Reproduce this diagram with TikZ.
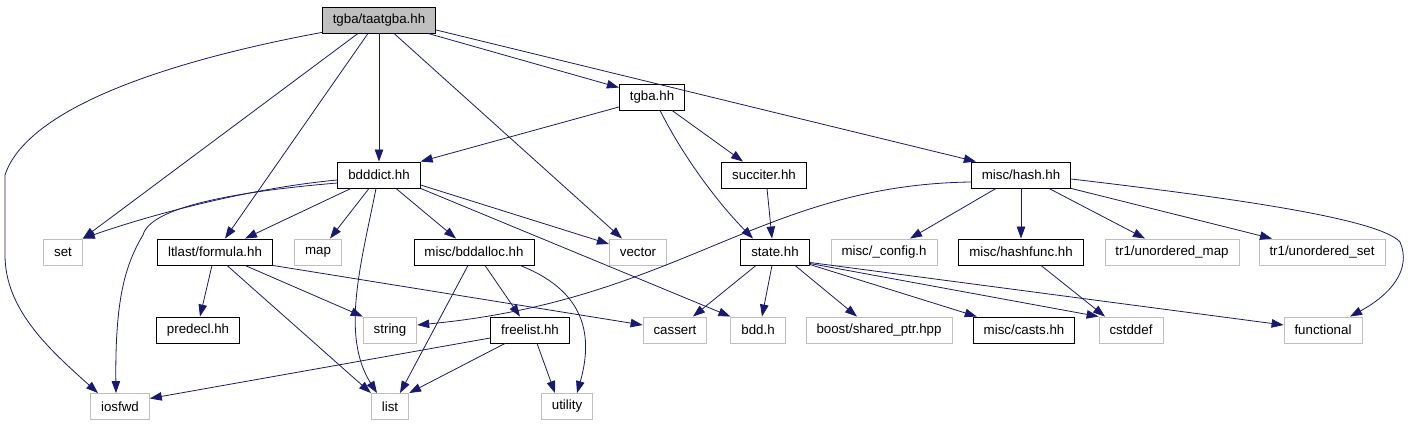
\documentclass[tikz,border=0pt]{standalone}
\usepackage{fontspec}
\setmainfont{Liberation Sans}
\usepackage{tikz}
\usetikzlibrary{arrows.meta}

\definecolor{edgeblue}{RGB}{25,25,112}
\definecolor{boxgray}{RGB}{191,191,191}

\begin{document}
\begin{tikzpicture}[
  x=1pt, y=-1pt,
  font=\fontsize{13.3}{16}\selectfont,
  inc/.style={draw, line width=0.9pt, fill=white, minimum height=26pt, inner xsep=10.5pt, inner ysep=0pt},
  sys/.style={draw=boxgray, line width=0.9pt, fill=white, minimum height=26pt, inner xsep=10.5pt, inner ysep=0pt},
  cur/.style={inc, fill=boxgray},
  arr/.style={-{Triangle[length=12pt,width=8.5pt]}, edgeblue, line width=0.8pt}
]
\useasboundingbox (0,0) rectangle (1408,427);

% row 0 to row 2
\node[cur] (taatgba) at (379,20) {tgba/taatgba.hh};
\node[inc] (tgba) at (652,97) {tgba.hh};
\node[inc] (bdddict) at (379,175) {bdddict.hh};
\node[inc] (succiter) at (764,175) {succiter.hh};
\node[inc] (hash) at (1021,175) {misc/hash.hh};

% row 3
\node[sys] (set) at (63,252) {set};
\node[inc] (formula) at (215,252) {ltlast/formula.hh};
\node[sys] (map) at (318,252) {map};
\node[inc] (bddalloc) at (474,252) {misc/bddalloc.hh};
\node[sys] (vector) at (638,252) {vector};
\node[inc] (state) at (775,252) {state.hh};
\node[sys] (config) at (884,252) {misc/\_config.h};
\node[inc] (hashfunc) at (1021,252) {misc/hashfunc.hh};
\node[sys] (umap) at (1172,252) {tr1/unordered\_map};
\node[sys] (uset) at (1322,252) {tr1/unordered\_set};

% row 4
\node[inc] (predecl) at (198,330) {predecl.hh};
\node[sys] (string) at (390,330) {string};
\node[inc] (freelist) at (530,330) {freelist.hh};
\node[sys] (cassert) at (675,330) {cassert};
\node[sys] (bddh) at (758,330) {bdd.h};
\node[sys] (shptr) at (879,330) {boost/shared\_ptr.hpp};
\node[inc] (casts) at (1024,330) {misc/casts.hh};
\node[sys] (cstddef) at (1131,330) {cstddef};
\node[sys] (functional) at (1323,330) {functional};

% row 5
\node[sys] (iosfwd) at (120,406.5) {iosfwd};
\node[sys] (list) at (390,406.5) {list};
\node[sys] (utility) at (567,406.5) {utility};

% tgba/taatgba.hh
\draw[arr] ([yshift=1pt]taatgba.south west) .. controls (200,55) and (30,100) .. (5,175) -- (5,255) .. controls (5,310) and (50,350) .. ([xshift=-22pt]iosfwd.north);
\draw[arr] ([xshift=-21pt]taatgba.south) -- (set.north east);
\draw[arr] ([xshift=-11pt]taatgba.south) -- ([xshift=10pt]formula.north);
\draw[arr] (taatgba.south) -- (bdddict.north);
\draw[arr] ([xshift=15pt]taatgba.south) -- ([xshift=-16pt]vector.north);
\draw[arr] ([xshift=49pt]taatgba.south) -- ([yshift=-4pt]tgba.north west);
\draw[arr] ([yshift=-10pt]taatgba.east) -- ([xshift=5pt]hash.north west);

% tgba.hh
\draw[arr] ([yshift=-10pt]tgba.west) -- (bdddict.north east);
\draw[arr] ([xshift=8pt]tgba.south) .. controls (685,160) and (720,205) .. ([xshift=-22pt]state.north);
\draw[arr] ([xshift=20pt]tgba.south) -- ([xshift=-21pt]succiter.north);
\draw[arr] ([xshift=3pt]succiter.south) -- ([xshift=-3pt]state.north);

% bdddict.hh
\draw[arr] ([yshift=-5pt]bdddict.west) .. controls (250,188) and (150,215) .. (set.north east);
\draw[arr] ([yshift=-8pt]bdddict.west) .. controls (230,192) and (150,208) .. (143,235) .. controls (125,265) and (115,300) .. ([xshift=-4pt]iosfwd.north);
\draw[arr] ([xshift=-28pt]bdddict.south) -- ([xshift=30pt]formula.north);
\draw[arr] ([xshift=-10pt]bdddict.south) -- ([xshift=12pt]map.north);
\draw[arr] ([xshift=-3pt]bdddict.south) .. controls (362,260) and (340,335) .. ([xshift=-13pt]list.north);
\draw[arr] ([xshift=17pt]bdddict.south) -- ([xshift=-18pt]bddalloc.north);
\draw[arr] ([yshift=-10pt]bdddict.east) -- ([yshift=8pt]vector.west);
\draw[arr] (bdddict.south east) -- (bddh.north west);

% ltlast/formula.hh
\draw[arr] ([xshift=-3pt]formula.south) -- ([xshift=2pt]predecl.north);
\draw[arr] ([xshift=12pt]formula.south) -- (list.north west);
\draw[arr] ([xshift=30pt]formula.south) -- (string.north west);
\draw[arr] (formula.south east) -- ([yshift=5pt]cassert.west);

% misc/bddalloc.hh and freelist.hh
\draw[arr] ([xshift=-6pt]bddalloc.south) -- ([xshift=10pt]list.north);
\draw[arr] ([xshift=11pt]bddalloc.south) -- ([xshift=-10pt]freelist.north);
\draw[arr] ([xshift=46pt]bddalloc.south) .. controls (570,285) and (598,320) .. ([xshift=10pt]utility.north);
\draw[arr] ([yshift=-8pt]freelist.west) -- ([yshift=8pt]iosfwd.east);
\draw[arr] ([xshift=-25pt]freelist.south) -- (list.north east);
\draw[arr] ([xshift=7pt]freelist.south) -- ([xshift=-12pt]utility.north);

% state.hh
\draw[arr] ([xshift=-19pt]state.south) -- ([xshift=18pt]cassert.north);
\draw[arr] ([xshift=-3pt]state.south) -- ([xshift=4pt]bddh.north);
\draw[arr] ([xshift=20pt]state.south) -- ([xshift=-22pt]shptr.north);
\draw[arr] ([yshift=1pt]state.south east) -- ([xshift=4pt]casts.north west);
\draw[arr] ([yshift=2pt]state.south east) -- (cstddef.north west);
\draw[arr] ([yshift=3pt]state.south east) -- ([yshift=5pt]functional.west);

% misc/hash.hh
\draw[arr] ([yshift=-7pt]hash.west) .. controls (760,185) and (680,300) .. ([yshift=5pt]string.east);
\draw[arr] ([xshift=-25pt]hash.south) -- ([xshift=26pt]config.north);
\draw[arr] (hash.south) -- (hashfunc.north);
\draw[arr] ([xshift=28pt]hash.south) -- ([xshift=-27pt]umap.north);
\draw[arr] (hash.south east) -- ([xshift=-50pt]uset.north);
\draw[arr] ([yshift=-4pt]hash.east) .. controls (1250,200) and (1380,220) .. (1400,242) .. controls (1412,270) and (1390,295) .. ([xshift=27pt]functional.north);
\draw[arr] ([xshift=20pt]hashfunc.south) -- ([xshift=-26pt]cstddef.north);
\end{tikzpicture}
\end{document}
